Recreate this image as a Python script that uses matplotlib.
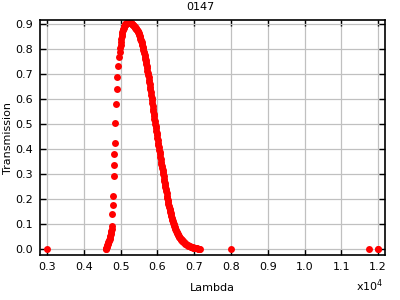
import matplotlib
matplotlib.use("Agg")
import matplotlib.pyplot as plt
from matplotlib.ticker import FuncFormatter, MultipleLocator

# wavelength (Angstrom) and transmission
lam_foot = [4590, 4600, 4610, 4620, 4630, 4640, 4650, 4660, 4670, 4680,
            4690, 4700, 4710, 4720, 4730, 4740, 4750, 4760, 4770]
tr_foot = [0.000, 0.002, 0.005, 0.008, 0.011, 0.015, 0.019, 0.023, 0.027, 0.032,
           0.037, 0.042, 0.048, 0.054, 0.060, 0.067, 0.074, 0.082, 0.092]

lam_rise = [4778, 4786, 4794, 4810, 4820, 4830, 4840, 4855, 4868, 4890,
            4912, 4935, 4958, 4975, 4990, 5000, 5010, 5020, 5030, 5040,
            5050, 5060, 5070, 5080, 5090, 5100, 5110, 5120, 5130, 5140,
            5150, 5160, 5170, 5180, 5190, 5200, 5210, 5220, 5230]
tr_rise = [0.140, 0.176, 0.212, 0.292, 0.336, 0.379, 0.423, 0.503, 0.580, 0.640,
           0.690, 0.733, 0.770, 0.790, 0.805, 0.818, 0.830, 0.842, 0.853, 0.862,
           0.869, 0.875, 0.880, 0.884, 0.888, 0.892, 0.895, 0.897, 0.899, 0.901,
           0.902, 0.903, 0.904, 0.905, 0.905, 0.906, 0.906, 0.906, 0.906]

lam_fall = [5240, 5250, 5260, 5270, 5280, 5290, 5300, 5310, 5320, 5330,
            5340, 5350, 5360, 5370, 5380, 5390, 5400, 5410, 5420, 5430,
            5440, 5450, 5460, 5470, 5480, 5490, 5500, 5510, 5520, 5530,
            5540, 5550, 5560, 5570, 5580, 5590, 5600, 5610, 5620, 5630,
            5640, 5650, 5660, 5670, 5680, 5690, 5700, 5710, 5720, 5730,
            5740, 5750, 5760, 5770, 5780, 5790, 5800, 5810, 5820, 5830,
            5840, 5850, 5860, 5870, 5880, 5890, 5900, 5910, 5920, 5930,
            5940, 5950, 5960, 5970, 5980, 5990, 6000, 6010, 6020, 6030,
            6040, 6050, 6060, 6070, 6080, 6090, 6100, 6110, 6120, 6130,
            6140, 6150, 6160, 6170, 6180, 6190, 6200, 6210, 6220, 6230,
            6240, 6250, 6260, 6270, 6280, 6290, 6300, 6310, 6320, 6330,
            6340, 6350, 6360, 6370, 6380, 6390, 6400, 6410, 6420, 6430,
            6440, 6450, 6460, 6470, 6480, 6490, 6500, 6510, 6520, 6530,
            6540, 6550, 6560, 6570, 6580, 6590, 6600, 6610, 6620, 6630,
            6640, 6650, 6660, 6670, 6680, 6690, 6700, 6720, 6740, 6760,
            6780, 6800, 6820, 6840, 6860, 6880, 6900, 6920, 6940, 6960,
            6980, 7000, 7020, 7040, 7060, 7080, 7100, 7120, 7140, 7160]
tr_fall = [0.906, 0.906, 0.905, 0.905, 0.904, 0.903, 0.902, 0.901, 0.899, 0.898,
           0.896, 0.895, 0.893, 0.891, 0.889, 0.887, 0.885, 0.883, 0.881, 0.879,
           0.877, 0.875, 0.872, 0.870, 0.867, 0.864, 0.861, 0.857, 0.852, 0.847,
           0.842, 0.837, 0.832, 0.827, 0.821, 0.816, 0.810, 0.804, 0.797, 0.790,
           0.783, 0.776, 0.769, 0.762, 0.755, 0.748, 0.740, 0.732, 0.723, 0.714,
           0.705, 0.696, 0.687, 0.678, 0.669, 0.660, 0.650, 0.639, 0.628, 0.617,
           0.606, 0.595, 0.584, 0.573, 0.562, 0.551, 0.540, 0.531, 0.521, 0.512,
           0.502, 0.493, 0.483, 0.474, 0.464, 0.455, 0.445, 0.436, 0.426, 0.417,
           0.407, 0.398, 0.388, 0.379, 0.369, 0.360, 0.350, 0.342, 0.333, 0.325,
           0.316, 0.308, 0.299, 0.291, 0.282, 0.274, 0.265, 0.257, 0.248, 0.240,
           0.231, 0.223, 0.214, 0.206, 0.197, 0.189, 0.180, 0.173, 0.167, 0.161,
           0.155, 0.149, 0.143, 0.137, 0.131, 0.126, 0.120, 0.115, 0.111, 0.106,
           0.102, 0.097, 0.093, 0.088, 0.084, 0.079, 0.075, 0.072, 0.069, 0.066,
           0.064, 0.061, 0.058, 0.055, 0.053, 0.050, 0.048, 0.046, 0.044, 0.042,
           0.040, 0.038, 0.037, 0.035, 0.033, 0.031, 0.030, 0.027, 0.025, 0.022,
           0.020, 0.018, 0.016, 0.014, 0.013, 0.011, 0.010, 0.009, 0.008, 0.007,
           0.006, 0.005, 0.004, 0.004, 0.003, 0.003, 0.002, 0.001, 0.001, 0.000]

lam_extra = [3000, 8000, 11750, 11985, 12000]
tr_extra = [0.0, 0.0, 0.0, 0.0, 0.0]

lam = lam_extra[:1] + lam_foot + lam_rise + lam_fall + lam_extra[1:]
tr = tr_extra[:1] + tr_foot + tr_rise + tr_fall + tr_extra[1:]

plt.rcParams["font.family"] = "DejaVu Sans"
plt.rcParams["font.size"] = 8

fig = plt.figure(figsize=(4, 3), dpi=100)
ax = fig.add_axes([0.1, 0.15, 0.8625, 0.783])

ax.grid(True, color="#c0c0c0", linewidth=0.9)
ax.set_axisbelow(True)
ax.plot(lam, tr, linestyle="none", marker="o", markersize=5.0,
        markeredgewidth=0, color="#ff0000")

ax.set_xlim(2810, 12185)
ax.set_ylim(-0.024, 0.916)
ax.xaxis.set_major_locator(MultipleLocator(1000))
ax.yaxis.set_major_locator(MultipleLocator(0.1))
ax.xaxis.set_major_formatter(FuncFormatter(lambda v, p: "%.1f" % (v / 1e4)))
ax.yaxis.set_major_formatter(FuncFormatter(lambda v, p: "%.1f" % abs(round(v, 2))))
ax.tick_params(direction="in", top=True, right=True, length=4, width=1,
               labelsize=8, pad=5)
for s in ax.spines.values():
    s.set_linewidth(1.2)

# title sits at the figure centre, not the axes centre
fig.text(0.5, 0.975, "0147", fontsize=8, ha="center", va="center")
ax.set_xlabel("Lambda", fontsize=8, labelpad=8)
ax.set_ylabel("Transmission", fontsize=8, labelpad=2)
fig.text(0.9575, 0.02, "x10$^4$", fontsize=8, ha="right", va="bottom")

fig.savefig("out.png", dpi=100)
